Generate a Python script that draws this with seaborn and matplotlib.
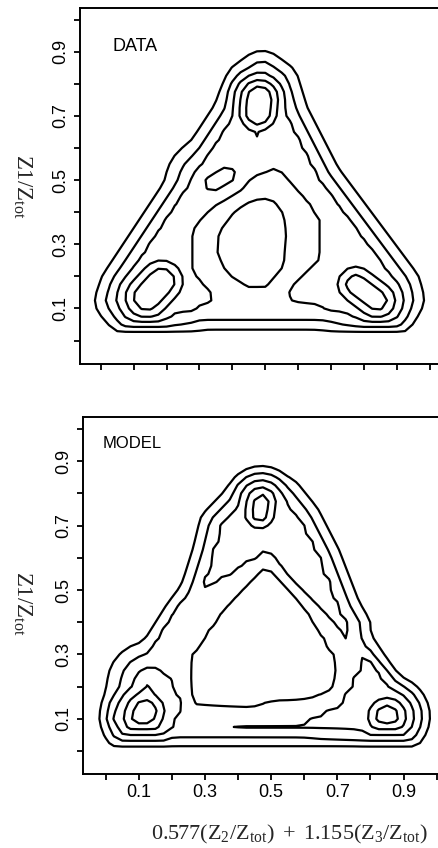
import numpy as np
import matplotlib
matplotlib.use("Agg")
import matplotlib.pyplot as plt
from matplotlib.path import Path
import seaborn as sns

# contour levels of the (log) event density
levels = [1, 2, 3, 4, 5]
tick_values = [0.0, 0.1, 0.2, 0.3, 0.4, 0.5, 0.6, 0.7, 0.8, 0.9, 1.0]
tick_labels = ["", "0.1", "", "0.3", "", "0.5", "", "0.7", "", "0.9", ""]

# ---------------- DATA ----------------
# band of high density (triangle ring incl. corners), open at the bottom centre
data_band = [(0.338, 0.133), (0.27, 0.095), (0.16, 0.075), (0.09, 0.085), (0.055, 0.125),
             (0.07, 0.17), (0.283, 0.50), (0.41, 0.70), (0.45, 0.80), (0.49, 0.83),
             (0.53, 0.80), (0.56, 0.70), (0.66, 0.50), (0.90, 0.17), (0.91, 0.13),
             (0.88, 0.085), (0.80, 0.075), (0.718, 0.095), (0.646, 0.117), (0.576, 0.133),
             (0.585, 0.167), (0.667, 0.25), (0.667, 0.385), (0.636, 0.43), (0.597, 0.48),
             (0.545, 0.54), (0.494, 0.53), (0.40, 0.48), (0.30, 0.385), (0.271, 0.334),
             (0.271, 0.22)]
data_band_height = 3.2
data_band_decay = 0.033
# interior floor with central depletion
data_floor = [(0.10, 0.08), (0.87, 0.08), (0.49, 0.75)]
data_hole = [(0.494, 0.46), (0.535, 0.45), (0.57, 0.40), (0.58, 0.334), (0.57, 0.225),
             (0.51, 0.152), (0.44, 0.152), (0.37, 0.20), (0.338, 0.27), (0.342, 0.34),
             (0.40, 0.42), (0.45, 0.45)]
data_floor_height = 2.5
data_floor_decay = 0.031
data_hole_height = 1.5
# local maxima: top, its lower shoulder, lower-left, lower-right, small island
data_peaks = [[(0.478, 0.71), (0.482, 0.755)], [(0.462, 0.615), (0.478, 0.70)],
              [(0.14, 0.135), (0.185, 0.185)], [(0.775, 0.175), (0.84, 0.125)],
              [(0.34, 0.49), (0.385, 0.517)]]
data_peak_heights = [6.85, 4.25, 6.6, 6.2, 4.6]
data_peak_decays = [0.02, 0.035, 0.025, 0.025, 0.04]
# steep acceptance edge at low Z1 (level 3 height, fall-off)
data_edge = (0.058, 0.0155)

# ---------------- MODEL ----------------
model_ring = [(0.03, 0.11), (0.08, 0.06), (0.20, 0.045), (0.50, 0.045), (0.80, 0.045),
              (0.90, 0.06), (0.935, 0.11), (0.85, 0.22), (0.75, 0.376), (0.645, 0.571),
              (0.555, 0.74), (0.485, 0.80), (0.42, 0.75), (0.327, 0.587), (0.216, 0.438),
              (0.096, 0.242)]
model_hole = [(0.487, 0.583), (0.587, 0.478), (0.688, 0.304), (0.705, 0.26), (0.677, 0.174),
              (0.436, 0.137), (0.265, 0.143), (0.255, 0.23), (0.26, 0.30), (0.345, 0.43)]
model_ring_height = 2.2
model_ring_decay = 0.03
model_hole_height = 1.5
model_arms = [(0.29, 0.50), (0.336, 0.525), (0.487, 0.624), (0.728, 0.351), (0.738, 0.385),
              (0.708, 0.438), (0.647, 0.60), (0.587, 0.72), (0.532, 0.79), (0.48, 0.81),
              (0.42, 0.78), (0.345, 0.70), (0.325, 0.615)]
model_arms_height = 3.1
model_arms_decay = 0.03
# level-3 regions of the two lower corners (right one with its thin tail)
model_corner_right = [(0.345, 0.079), (0.45, 0.081), (0.587, 0.087), (0.708, 0.149),
                      (0.748, 0.22), (0.778, 0.30), (0.829, 0.242), (0.90, 0.15),
                      (0.925, 0.105), (0.90, 0.06), (0.80, 0.052), (0.65, 0.062),
                      (0.587, 0.071), (0.45, 0.073)]
model_corner_left = [(0.025, 0.10), (0.06, 0.058), (0.15, 0.052), (0.215, 0.075),
                     (0.23, 0.158), (0.195, 0.23), (0.145, 0.26), (0.09, 0.21), (0.035, 0.15)]
model_corner_height = 3.08
model_corner_decay = 0.02
model_peaks = [[(0.465, 0.735), (0.47, 0.775)], [(0.112, 0.105), (0.12, 0.125)],
               [(0.122, 0.13), (0.135, 0.21)], [(0.85, 0.108)]]
model_peak_heights = [6.0, 6.4, 4.25, 6.4]
model_peak_decays = [0.022, 0.024, 0.04, 0.024]
model_edge = (0.05, 0.018)


def seg_dist(px, py, x0, y0, x1, y1):
    dx, dy = x1 - x0, y1 - y0
    ll = dx * dx + dy * dy
    t = 0.0 if ll == 0 else np.clip(((px - x0) * dx + (py - y0) * dy) / ll, 0, 1)
    return np.hypot(px - (x0 + t * dx), py - (y0 + t * dy))


def shape_field(px, py, rings, height, decay, closed=True):
    d = np.full(px.shape, np.inf)
    for ring in rings:
        pts = np.asarray(ring, float)
        n = len(pts)
        if n == 1:
            d = np.minimum(d, np.hypot(px - pts[0, 0], py - pts[0, 1]))
            continue
        idx = range(n) if (closed and n > 2) else range(n - 1)
        for i in idx:
            a, b = pts[i], pts[(i + 1) % n]
            d = np.minimum(d, seg_dist(px, py, a[0], a[1], b[0], b[1]))
    if closed and len(rings[0]) > 2:
        flat = np.column_stack([px.ravel(), py.ravel()])
        inside = Path(rings[0]).contains_points(flat)
        for hole in rings[1:]:
            inside &= ~Path(hole).contains_points(flat)
        d[inside.reshape(px.shape)] = 0.0
    return height - d / decay


def union(fields, temp=0.1):
    st = np.stack(fields) / temp
    m = st.max(axis=0)
    return temp * (m + np.log(np.exp(st - m).sum(axis=0)))


def clip_low_edge(field, py, edge, temp=0.1):
    y0, lam = edge
    limit = 3.0 + (py - y0) / lam
    return -union([-field, -limit], temp)


# coarse binning grid, as for a histogrammed density
gx = np.arange(-0.1, 1.1001, 0.025)
gy = np.arange(-0.1, 1.1001, 0.025)
X, Y = np.meshgrid(gx, gy)

data_fields = [
    shape_field(X, Y, [data_band], data_band_height, data_band_decay),
    shape_field(X, Y, [data_floor, data_hole], data_floor_height, data_floor_decay),
    shape_field(X, Y, [data_hole], data_hole_height, data_floor_decay),
]
for path, h, lam in zip(data_peaks, data_peak_heights, data_peak_decays):
    data_fields.append(shape_field(X, Y, [path], h, lam, closed=False))
Z_data = clip_low_edge(union(data_fields), Y, data_edge)

model_fields = [
    shape_field(X, Y, [model_ring, model_hole], model_ring_height, model_ring_decay),
    shape_field(X, Y, [model_hole], model_hole_height, model_ring_decay),
    shape_field(X, Y, [model_arms], model_arms_height, model_arms_decay),
    shape_field(X, Y, [model_corner_right], model_corner_height, model_corner_decay),
    shape_field(X, Y, [model_corner_left], model_corner_height, model_corner_decay),
]
for path, h, lam in zip(model_peaks, model_peak_heights, model_peak_decays):
    model_fields.append(shape_field(X, Y, [path], h, lam, closed=False))
Z_model = clip_low_edge(union(model_fields), Y, model_edge)

sns.set_theme(style="ticks")
plt.rcParams["font.family"] = ["Liberation Sans", "DejaVu Sans"]
plt.rcParams["mathtext.fontset"] = "custom"
plt.rcParams["mathtext.rm"] = "Liberation Serif"
plt.rcParams["mathtext.it"] = "Liberation Serif:italic"

W, H = 439, 848
fig = plt.figure(figsize=(W / 100, H / 100), dpi=100)
fig.patch.set_facecolor("white")


def make_axes(l, t, r, b, xlim, ylim, show_xlabels):
    ax = fig.add_axes([l / W, 1 - b / H, (r - l) / W, (b - t) / H])
    ax.set_facecolor("white")
    ax.set_xlim(*xlim)
    ax.set_ylim(*ylim)
    for side in ["left", "top", "bottom"]:
        ax.spines[side].set_linewidth(1.4)
        ax.spines[side].set_color("black")
    ax.spines["right"].set_visible(False)
    ax.set_xticks(tick_values)
    ax.set_yticks(tick_values)
    ax.set_xticklabels(tick_labels if show_xlabels else [""] * len(tick_values))
    ax.set_yticklabels(tick_labels, rotation=90, va="center")
    ax.tick_params(direction="out", length=4.5, width=1.3, color="black",
                   labelsize=13, labelcolor="black", pad=3)
    ax.grid(False)
    return ax


ax1 = make_axes(80, 8, 439, 364, (-0.063, 1.028), (-0.073, 1.036), False)
ax1.contour(X, Y, Z_data, levels=levels, colors="black", linewidths=1.6)
ax1.text(0.037, 0.915, "DATA", fontsize=13, ha="left", va="center", color="black")

ax2 = make_axes(83, 417, 439, 774, (-0.0686, 1.007), (-0.071, 1.037), True)
ax2.contour(X, Y, Z_model, levels=levels, colors="black", linewidths=1.6)
ax2.text(-0.008, 0.955, "MODEL", fontsize=12, ha="left", va="center", color="black",
         family=["Liberation Sans Narrow", "Liberation Sans"])

ylab = r"$\mathrm{Z1/Z_{tot}}$"
fig.text(22 / W, 1 - 186 / H, ylab, rotation=270, ha="center", va="center", fontsize=16.5)
fig.text(22 / W, 1 - 603 / H, ylab, rotation=270, ha="center", va="center", fontsize=16.5)
fig.text(290 / W, 1 - 834 / H, r"$\mathrm{0.577(Z_2/Z_{tot})\ +\ 1.155(Z_3/Z_{tot})}$",
         ha="center", va="center", fontsize=16)

fig.savefig("out.png", dpi=100, facecolor="white")
